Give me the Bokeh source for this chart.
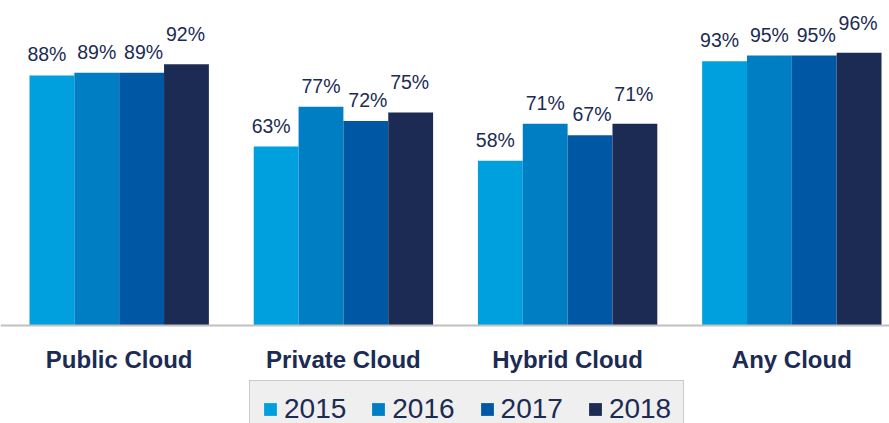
from bokeh.plotting import figure
from bokeh.models import Range1d, FixedTicker, Legend, LegendItem, ColumnDataSource
from bokeh.embed import file_html
from bokeh.resources import INLINE
from bokeh.core.properties import value

# ---- data ----
categories = ["Public Cloud", "Private Cloud", "Hybrid Cloud", "Any Cloud"]
years = ["2015", "2016", "2017", "2018"]
values_2015 = [88, 63, 58, 93]
values_2016 = [89, 77, 71, 95]
values_2017 = [89, 72, 67, 95]
values_2018 = [92, 75, 71, 96]
series = [values_2015, values_2016, values_2017, values_2018]

# ---- style ----
colors = ["#00a0df", "#007ec3", "#0058a5", "#1b2b53"]
navy = "#1b2b53"
label_dx = [-5, 0, 2, -1]
label_dy = [-21, -20.5, -21, -30]
STEP = 5  # slots per group (4 bars + 1 gap)

p = figure(width=889, height=423,
           x_range=Range1d(-2.647, 17.178), y_range=Range1d(-34.5, 114.4),
           output_backend="svg", toolbar_location=None,
           y_axis_location=None, min_border=0,
           outline_line_color=None, background_fill_color="white")
p.xgrid.visible = False
p.ygrid.visible = False

items = []
for k, (yr, vals, col) in enumerate(zip(years, series, colors)):
    xs = [g * STEP + k - 1.5 for g in range(len(categories))]
    src = ColumnDataSource(dict(x=xs, top=vals, label=[f"{v}%" for v in vals]))
    r = p.vbar(x="x", top="top", bottom=0, width=1, source=src,
               fill_color=col, line_color=None)
    p.text(x="x", y="top", text="label", source=src,
           text_align="center", text_baseline="middle",
           x_offset=label_dx[k], y_offset=label_dy[k],
           text_font=value("Liberation Sans"), text_font_size="19.5px",
           text_color=navy)
    items.append(LegendItem(label=yr, renderers=[r]))

ax = p.xaxis[0]
ax.fixed_location = 0
ax.ticker = FixedTicker(ticks=[g * STEP for g in range(len(categories))])
ax.major_label_overrides = {g * STEP: c for g, c in enumerate(categories)}
ax.major_tick_line_color = None
ax.minor_tick_line_color = None
ax.axis_line_color = "#c0c0c0"
ax.axis_line_width = 2
ax.major_label_standoff = 15
ax.major_label_text_font = "Liberation Sans"
ax.major_label_text_font_size = "24px"
ax.major_label_text_font_style = "bold"
ax.major_label_text_color = navy

legend = Legend(items=items, orientation="horizontal", location=(249, -15),
                glyph_width=16, glyph_height=16, label_standoff=6, spacing=24,
                padding=12, margin=0,
                label_text_font="Liberation Sans", label_text_font_size="28px",
                label_text_color=navy,
                background_fill_color="#efefef", background_fill_alpha=1,
                border_line_color="#a6a6a6", border_line_width=1.5)
p.add_layout(legend)

open("out.html", "w").write(file_html(p, INLINE))
